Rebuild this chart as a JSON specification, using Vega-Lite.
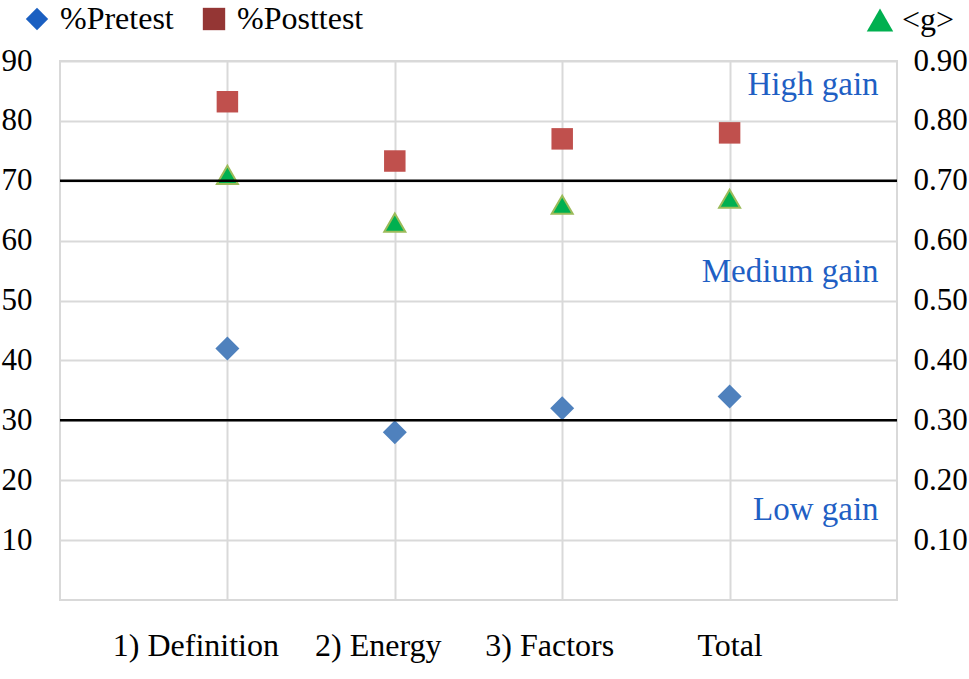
{
  "$schema": "https://vega.github.io/schema/vega-lite/v6.json",
  "width": 837,
  "height": 539,
  "autosize": "none",
  "padding": {"left": 60, "top": 61, "right": 72, "bottom": 79},
  "background": "white",
  "datasets": {
    "scores": [
      {"topic": "1) Definition", "series": "%Pretest", "value": 42},
      {"topic": "2) Energy", "series": "%Pretest", "value": 28},
      {"topic": "3) Factors", "series": "%Pretest", "value": 32},
      {"topic": "Total", "series": "%Pretest", "value": 34},
      {"topic": "1) Definition", "series": "%Posttest", "value": 83.2},
      {"topic": "2) Energy", "series": "%Posttest", "value": 73.3},
      {"topic": "3) Factors", "series": "%Posttest", "value": 77},
      {"topic": "Total", "series": "%Posttest", "value": 78}
    ],
    "gain": [
      {"topic": "1) Definition", "series": "<g>", "g": 0.71},
      {"topic": "2) Energy", "series": "<g>", "g": 0.63},
      {"topic": "3) Factors", "series": "<g>", "g": 0.66},
      {"topic": "Total", "series": "<g>", "g": 0.67}
    ],
    "levels": [{"level": 70}, {"level": 30}],
    "zones": [
      {"label": "High gain", "level": 86},
      {"label": "Medium gain", "level": 54.8},
      {"label": "Low gain", "level": 15}
    ]
  },
  "layer": [
    {
      "data": {"name": "scores"},
      "mark": {"type": "point", "filled": true, "opacity": 1},
      "encoding": {
        "x": {
          "field": "topic",
          "type": "ordinal",
          "scale": {
            "type": "point",
            "padding": 1,
            "domain": ["1) Definition", "2) Energy", "3) Factors", "Total"]
          },
          "axis": {
            "title": null,
            "labelAngle": 0,
            "labelPadding": 30,
            "labelFontSize": 32,
            "grid": true,
            "labelOffset": {"expr": "datum.label == '1) Definition' ? -32 : datum.label == '2) Energy' ? -17 : datum.label == '3) Factors' ? -13 : 0"}
          }
        },
        "y": {
          "field": "value",
          "type": "quantitative",
          "scale": {"domain": [0, 90], "nice": false},
          "axis": {
            "title": null,
            "orient": "left",
            "values": [10, 20, 30, 40, 50, 60, 70, 80, 90],
            "labelPadding": 28,
            "grid": true
          }
        },
        "color": {
          "field": "series",
          "type": "nominal",
          "scale": {"domain": ["%Pretest", "%Posttest"], "range": ["#4f81bd", "#c0504d"]},
          "legend": null
        },
        "shape": {
          "field": "series",
          "type": "nominal",
          "scale": {"domain": ["%Pretest", "%Posttest"], "range": ["diamond", "square"]},
          "legend": null
        },
        "size": {
          "field": "series",
          "type": "ordinal",
          "scale": {"domain": ["%Pretest", "%Posttest"], "range": [576, 462]},
          "legend": null
        }
      }
    },
    {
      "data": {"name": "scores"},
      "mark": {"type": "point", "filled": true, "size": 0, "opacity": 1},
      "encoding": {
        "x": {"field": "topic", "type": "ordinal"},
        "y": {
          "field": "value",
          "type": "quantitative",
          "scale": {"domain": [0, 90], "nice": false},
          "axis": null
        },
        "color": {
          "field": "series",
          "type": "nominal",
          "scale": {"domain": ["%Pretest", "%Posttest"], "range": ["#1a5fc1", "#943634"]},
          "legend": {
            "orient": "none",
            "legendX": -39,
            "legendY": -58,
            "direction": "horizontal",
            "title": null,
            "padding": 0,
            "symbolSize": 500,
            "symbolStrokeWidth": 0,
            "labelOffset": 7,
            "columnPadding": 24,
            "labelFont": "Liberation Serif",
            "labelFontSize": 32,
            "labelColor": "#000"
          }
        },
        "shape": {
          "field": "series",
          "type": "nominal",
          "scale": {"domain": ["%Pretest", "%Posttest"], "range": ["diamond", "square"]},
          "legend": {
            "orient": "none",
            "legendX": -39,
            "legendY": -58,
            "direction": "horizontal",
            "title": null,
            "padding": 0,
            "symbolSize": 500,
            "symbolStrokeWidth": 0,
            "labelOffset": 7,
            "columnPadding": 24,
            "labelFont": "Liberation Serif",
            "labelFontSize": 32,
            "labelColor": "#000"
          }
        }
      }
    },
    {
      "data": {"name": "gain"},
      "mark": {
        "type": "point",
        "filled": true,
        "opacity": 1,
        "size": 441,
        "stroke": "#9bbb59",
        "strokeWidth": 2
      },
      "encoding": {
        "x": {"field": "topic", "type": "ordinal"},
        "y": {
          "field": "g",
          "type": "quantitative",
          "scale": {"domain": [0, 0.9], "nice": false},
          "axis": {
            "title": null,
            "orient": "right",
            "values": [0.1, 0.2, 0.3, 0.4, 0.5, 0.6, 0.7, 0.8, 0.9],
            "format": ".2f",
            "labelPadding": 16,
            "grid": false
          }
        },
        "color": {
          "field": "series",
          "type": "nominal",
          "scale": {"range": ["#00b050"]},
          "legend": {
            "orient": "none",
            "legendX": 804,
            "legendY": -57,
            "title": null,
            "padding": 0,
            "symbolSize": 700,
            "symbolStrokeWidth": 0,
            "labelOffset": 6,
            "labelFont": "Liberation Serif",
            "labelFontSize": 32,
            "labelColor": "#000"
          }
        },
        "shape": {
          "field": "series",
          "type": "nominal",
          "scale": {"range": ["triangle-up"]},
          "legend": {
            "orient": "none",
            "legendX": 804,
            "legendY": -57,
            "title": null,
            "padding": 0,
            "symbolSize": 700,
            "symbolStrokeWidth": 0,
            "labelOffset": 6,
            "labelFont": "Liberation Serif",
            "labelFontSize": 32,
            "labelColor": "#000"
          }
        }
      }
    },
    {
      "data": {"name": "levels"},
      "mark": {"type": "rule", "color": "#000", "strokeWidth": 2.5},
      "encoding": {
        "y": {
          "field": "level",
          "type": "quantitative",
          "scale": {"domain": [0, 90], "nice": false},
          "axis": null
        }
      }
    },
    {
      "data": {"name": "zones"},
      "mark": {
        "type": "text",
        "align": "right",
        "baseline": "middle",
        "dx": 149,
        "font": "Liberation Serif",
        "fontSize": 33,
        "color": "#1f5fc4"
      },
      "encoding": {
        "x": {"datum": "Total", "type": "ordinal"},
        "y": {
          "field": "level",
          "type": "quantitative",
          "scale": {"domain": [0, 90], "nice": false},
          "axis": null
        },
        "text": {"field": "label"}
      }
    }
  ],
  "resolve": {
    "scale": {"y": "independent", "color": "independent", "shape": "independent", "size": "independent"}
  },
  "config": {
    "view": {"stroke": "#d9d9d9", "strokeWidth": 2},
    "axis": {
      "labelFont": "Liberation Serif",
      "labelFontSize": 31,
      "labelColor": "#000",
      "domain": false,
      "ticks": false,
      "gridColor": "#d9d9d9",
      "gridWidth": 2
    },
    "font": "Liberation Serif"
  }
}
